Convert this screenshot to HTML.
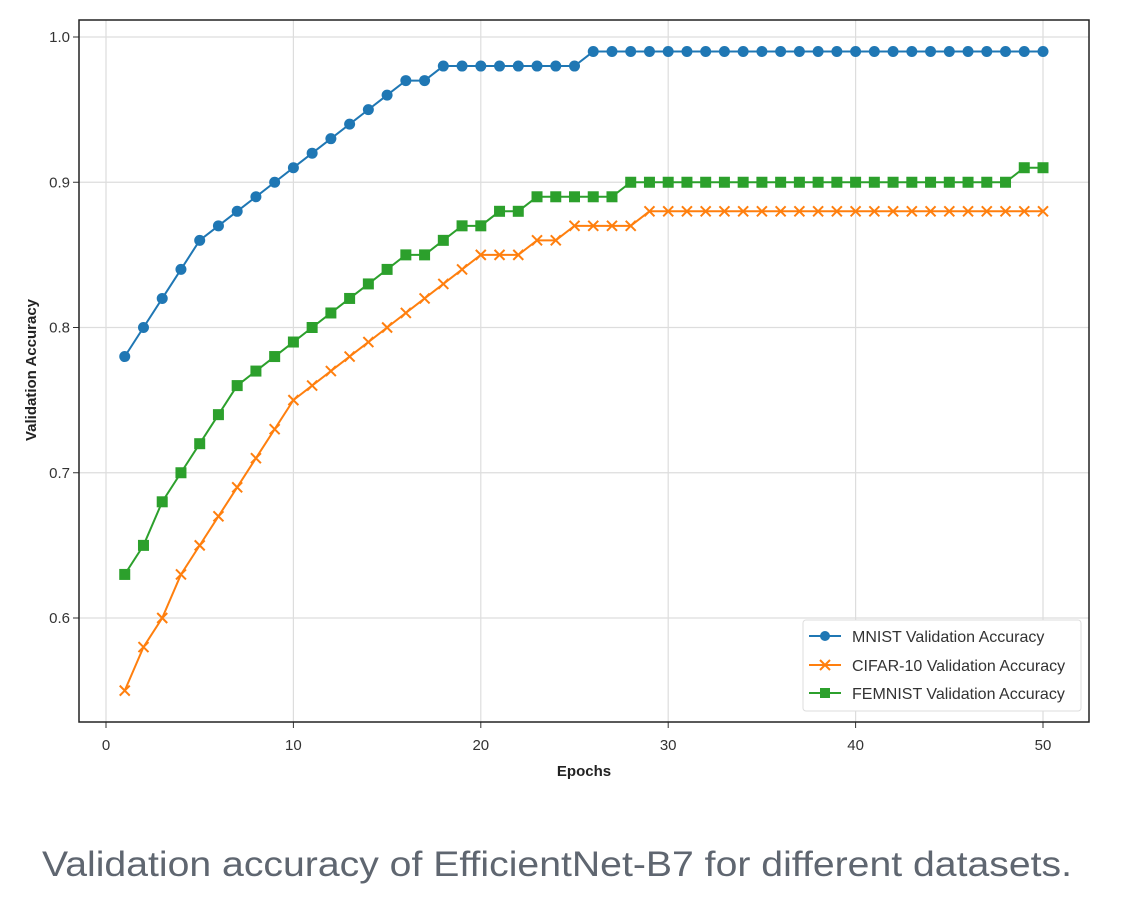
<!DOCTYPE html>
<html><head><meta charset="utf-8"><style>
body{margin:0;background:#fff;width:1147px;height:910px;overflow:hidden}
svg text{font-family:"Liberation Sans","DejaVu Sans",sans-serif}
</style></head><body>
<svg id="chart" width="1147" height="910" xmlns="http://www.w3.org/2000/svg">
<g id="grid"></g>
<g id="axes"></g>
<g id="series"></g>
<text x="36" y="370" transform="rotate(-90 36 370)" text-anchor="middle" font-size="15" font-weight="bold" fill="#222">Validation Accuracy</text>
<text x="584" y="776" text-anchor="middle" font-size="15" font-weight="bold" fill="#222">Epochs</text>
<g>
<rect x="803" y="620" width="278" height="91" rx="3" fill="#fff" stroke="#ddd"/>
<g><line x1="809" y1="636" x2="841" y2="636" stroke="#1f77b4" stroke-width="2"/><circle cx="825" cy="636" r="5" fill="#1f77b4"/><text x="852" y="642" font-size="16" fill="#333">MNIST Validation Accuracy</text></g>
<g><line x1="809" y1="665" x2="841" y2="665" stroke="#ff7f0e" stroke-width="2"/><path d="M820 660l10 10M830 660l-10 10" stroke="#ff7f0e" stroke-width="2"/><text x="852" y="671" font-size="16" fill="#333">CIFAR-10 Validation Accuracy</text></g>
<g><line x1="809" y1="693" x2="841" y2="693" stroke="#2ca02c" stroke-width="2"/><rect x="820" y="688" width="10" height="10" fill="#2ca02c"/><text x="852" y="699" font-size="16" fill="#333">FEMNIST Validation Accuracy</text></g>
</g>
<text x="42" y="876" font-size="35" fill="#5f6670" textLength="1030" lengthAdjust="spacingAndGlyphs">Validation accuracy of EfficientNet-B7 for different datasets.</text>
</svg>
<script>
const epochs=[];for(let i=1;i<=50;i++)epochs.push(i);
const mnist=[.78,.80,.82,.84,.86,.87,.88,.89,.90,.91,.92,.93,.94,.95,.96,.97,.97,.98,.98,.98,.98,.98,.98,.98,.98,.99,.99,.99,.99,.99,.99,.99,.99,.99,.99,.99,.99,.99,.99,.99,.99,.99,.99,.99,.99,.99,.99,.99,.99,.99];
const cifar=[.55,.58,.60,.63,.65,.67,.69,.71,.73,.75,.76,.77,.78,.79,.80,.81,.82,.83,.84,.85,.85,.85,.86,.86,.87,.87,.87,.87,.88,.88,.88,.88,.88,.88,.88,.88,.88,.88,.88,.88,.88,.88,.88,.88,.88,.88,.88,.88,.88,.88];
const femnist=[.63,.65,.68,.70,.72,.74,.76,.77,.78,.79,.80,.81,.82,.83,.84,.85,.85,.86,.87,.87,.88,.88,.89,.89,.89,.89,.89,.90,.90,.90,.90,.90,.90,.90,.90,.90,.90,.90,.90,.90,.90,.90,.90,.90,.90,.90,.90,.90,.91,.91];
const xTicks=[0,10,20,30,40,50];
const yTicks=[0.6,0.7,0.8,0.9,1.0];
const X=v=>106+(v-0)*18.74;
const Y=v=>37+(1.0-v)*1452.5;
const NS="http://www.w3.org/2000/svg";
function mk(p,t,a){const e=document.createElementNS(NS,t);for(const k in a)e.setAttribute(k,a[k]);p.appendChild(e);return e;}
const grid=document.getElementById('grid'),axes=document.getElementById('axes'),ser=document.getElementById('series');
xTicks.forEach(t=>{const l=mk(grid,'line',{x1:X(t),x2:X(t),y1:20,y2:722,stroke:'#ddd','stroke-width':1.2});


mk(axes,'line',{x1:X(t),x2:X(t),y1:722,y2:728,stroke:'#333'});
const tx=mk(axes,'text',{x:X(t),y:750,'text-anchor':'middle','font-size':15,fill:'#333'});tx.textContent=t;

});
yTicks.forEach(t=>{const l=mk(grid,'line',{x1:79,x2:1089,y1:Y(t),y2:Y(t),stroke:'#ddd','stroke-width':1.2});


mk(axes,'line',{x1:73,x2:79,y1:Y(t),y2:Y(t),stroke:'#333'});
const tx=mk(axes,'text',{x:70,y:Y(t)+5,'text-anchor':'end','font-size':15,fill:'#333'});tx.textContent=t.toFixed(1);

});
const fr=mk(axes,'rect',{x:79,y:20,width:1010,height:702,fill:'none',stroke:'#222','stroke-width':1.5});


function draw(vals,color,marker,name){
const g=mk(ser,'g',{});


mk(g,'polyline',{points:vals.map((v,i)=>X(epochs[i])+','+Y(v)).join(' '),fill:'none',stroke:color,'stroke-width':2});
vals.forEach((v,i)=>{const x=X(epochs[i]),y=Y(v);let m;
if(marker==='o')m=mk(g,'circle',{cx:x,cy:y,r:5.5,fill:color});
else if(marker==='s')m=mk(g,'rect',{x:x-5.5,y:y-5.5,width:11,height:11,fill:color});
else m=mk(g,'path',{d:`M${x-5} ${y-5}l10 10M${x+5} ${y-5}l-10 10`,stroke:color,'stroke-width':2});

});}
draw(femnist,'#2ca02c','s','femnist-series');
draw(cifar,'#ff7f0e','x','cifar10-series');
draw(mnist,'#1f77b4','o','mnist-series');
</script>
</body></html>
